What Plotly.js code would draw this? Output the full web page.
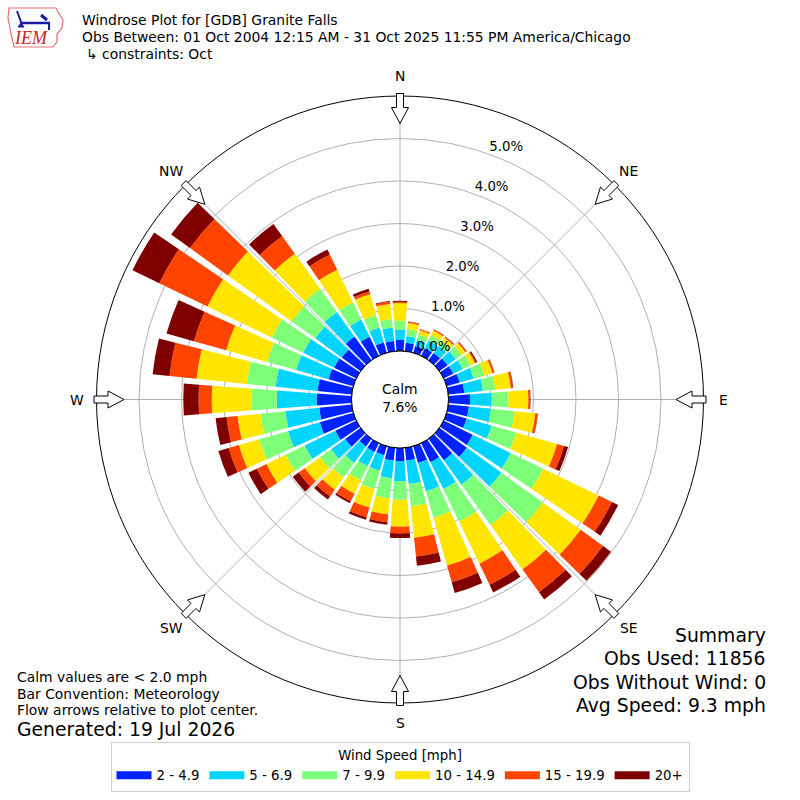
<!DOCTYPE html>
<html>
<head>
<meta charset="utf-8">
<script src="https://cdn.plot.ly/plotly-3.0.1.min.js"></script>
<style>
html,body{margin:0;padding:0;background:#fff;}
#chart{width:800px;height:800px;}
</style>
</head>
<body>
<div id="chart"></div>
<script>
// ---------------- data ----------------
const directions = [0,10,20,30,40,50,60,70,80,90,100,110,120,130,140,150,160,170,
                    180,190,200,210,220,230,240,250,260,270,280,290,300,310,320,330,340,350];
const speedBins = ['2 - 4.9','5 - 6.9','7 - 9.9','10 - 14.9','15 - 19.9','20+'];
const binColors = ['#0022ff','#00d4ff','#7dff7a','#ffe500','#ff4400','#800000'];

// percent of observations per direction and speed bin
const speed2to5   = [0.26,0.20,0.17,0.20,0.21,0.24,0.25,0.32,0.38,0.51,0.49,0.49,0.76,0.80,0.62,0.50,0.41,0.30,
                     0.32,0.30,0.22,0.23,0.22,0.45,0.55,0.82,0.77,0.82,0.81,0.61,0.58,0.55,0.69,0.50,0.25,0.24];
const speed5to7   = [0.24,0.16,0.15,0.20,0.21,0.24,0.25,0.34,0.44,0.51,0.52,0.61,0.99,1.00,0.71,0.70,0.69,0.56,
                     0.46,0.42,0.38,0.37,0.48,0.41,0.80,0.78,0.80,0.94,0.99,0.79,0.81,0.77,0.71,0.45,0.37,0.32];
const speed7to10  = [0.21,0.16,0.12,0.14,0.14,0.17,0.20,0.26,0.29,0.39,0.56,0.60,0.85,1.20,1.17,0.85,0.65,0.52,
                     0.44,0.48,0.45,0.37,0.42,0.32,0.50,0.70,0.59,0.59,0.68,0.71,0.82,0.68,0.67,0.45,0.30,0.20];
const speed10to15 = [0.42,0.15,0.11,0.12,0.09,0.11,0.12,0.20,0.37,0.47,0.49,1.00,1.45,1.10,1.29,1.10,1.17,0.75,
                     0.63,0.38,0.45,0.35,0.36,0.44,0.50,0.50,0.54,0.94,1.19,1.00,1.68,1.85,1.02,0.85,0.51,0.36];
const speed15to20 = [0.03,0.03,0.03,0.03,0.03,0.03,0.03,0.04,0.05,0.03,0.06,0.17,0.35,0.65,0.66,0.55,0.41,0.44,
                     0.16,0.18,0.24,0.20,0.19,0.18,0.25,0.25,0.26,0.31,0.64,0.79,1.26,1.10,0.51,0.40,0.07,0.05];
const speed20plus = [0.02,0.005,0.005,0.005,0.005,0.01,0.03,0.01,0.01,0.02,0.005,0.10,0.16,0.23,0.21,0.20,0.26,0.22,
                     0.11,0.06,0.06,0.05,0.09,0.17,0.22,0.25,0.26,0.36,0.40,0.67,0.70,0.55,0.35,0.13,0.07,0.02];

const radialTicks = [0,1,2,3,4,5];
const radialTickText = ['0.0%','1.0%','2.0%','3.0%','4.0%','5.0%'];
const compassLabels = ['N','NE','E','SE','S','SW','W','NW'];
const compassAngles = [0,45,90,135,180,225,270,315];

const titleLines = ['Windrose Plot for [GDB] Granite Falls',
                    'Obs Between: 01 Oct 2004 12:15 AM - 31 Oct 2025 11:55 PM America/Chicago',
                    '↳ constraints: Oct'];
const calmText = 'Calm<br>7.6%';
const noteLines = ['Calm values are &lt; 2.0 mph','Bar Convention: Meteorology','Flow arrows relative to plot center.'];
const generatedText = 'Generated: 19 Jul 2026';
const summaryLines = ['Summary','Obs Used: 11856','Obs Without Wind: 0','Avg Speed: 9.3 mph'];

// ---------------- geometry / style ----------------
const W = 800, H = 800;
const CX = 400, CY = 399.5, R = 303.5, HOLE = 48.5;
const px = x => x / W;
const py = y => 1 - y / H;
const FONT = 'DejaVu Sans';

const series = [speed2to5, speed5to7, speed7to10, speed10to15, speed15to20, speed20plus];

const traces = series.map((vals, i) => ({
  type: 'barpolar',
  r: vals,
  theta: directions,
  width: 8.4,
  name: speedBins[i],
  marker: {color: binColors[i], line: {width: 0}},
  showlegend: false,
  hoverinfo: 'skip'
}));

// black inner (calm) circle
const ringTheta = [];
for (let a = 0; a <= 360; a += 3) ringTheta.push(a);
traces.push({
  type: 'scatterpolar', mode: 'lines',
  r: ringTheta.map(() => 0), theta: ringTheta,
  line: {color: '#000', width: 1},
  cliponaxis: false, showlegend: false, hoverinfo: 'skip'
});

// radial tick labels
traces.push({
  type: 'scatterpolar', mode: 'text',
  r: radialTicks, theta: radialTicks.map(() => 20),
  text: radialTickText, textposition: 'top right',
  textfont: {family: FONT, size: 13.3, color: '#000'},
  cliponaxis: false, showlegend: false, hoverinfo: 'skip'
});

// legend entries
speedBins.forEach((name, i) => {
  traces.push({
    type: 'scatterpolar', mode: 'lines',
    r: [null], theta: [null],
    name: name,
    line: {color: binColors[i], width: 8},
    showlegend: true, hoverinfo: 'skip'
  });
});

// ---------------- annotations ----------------
const annotations = [];
titleLines.forEach((t, i) => {
  annotations.push({text: t, xref: 'paper', yref: 'paper',
    x: px(i === 2 ? 84 : 80), y: py(20 + 17 * i), xanchor: 'left', yanchor: 'middle',
    showarrow: false, font: {family: FONT, size: 13.9, color: '#000'}});
});
compassLabels.forEach((t, i) => {
  const a = compassAngles[i] * Math.PI / 180;
  annotations.push({text: t, xref: 'paper', yref: 'paper',
    x: px(CX + 323.5 * Math.sin(a)), y: py(CY - 323.5 * Math.cos(a)),
    xanchor: 'center', yanchor: 'middle', showarrow: false,
    font: {family: FONT, size: 13.9, color: '#000'}});
});
annotations.push({text: calmText, xref: 'paper', yref: 'paper', x: px(400), y: py(398.5),
  xanchor: 'center', yanchor: 'middle', showarrow: false, align: 'center',
  font: {family: FONT, size: 13.9, color: '#000'}});
noteLines.forEach((t, i) => {
  annotations.push({text: t, xref: 'paper', yref: 'paper', x: px(15), y: py(677 + 16.5 * i),
    xanchor: 'left', yanchor: 'middle', showarrow: false,
    font: {family: FONT, size: 13.9, color: '#000'}});
});
annotations.push({text: generatedText, xref: 'paper', yref: 'paper', x: px(15), y: py(729),
  xanchor: 'left', yanchor: 'middle', showarrow: false,
  font: {family: FONT, size: 18.8, color: '#000'}});
summaryLines.forEach((t, i) => {
  annotations.push({text: t, xref: 'paper', yref: 'paper', x: px(768), y: py(635 + 23.5 * i),
    xanchor: 'right', yanchor: 'middle', showarrow: false,
    font: {family: FONT, size: 18.8, color: '#000'}});
});
// logo text
annotations.push({text: 'IEM', xref: 'paper', yref: 'paper', x: px(31), y: py(38.5),
  xanchor: 'center', yanchor: 'middle', showarrow: false,
  font: {family: 'Liberation Serif', size: 18, color: '#cc2222', style: 'italic'}});

// ---------------- shapes ----------------
function arrowPath(deg) {
  const t = deg * Math.PI / 180;
  const ux = Math.sin(t), uy = -Math.cos(t), qx = Math.cos(t), qy = Math.sin(t);
  const pts = [[306,-3.5],[292,-3.5],[292,-8.5],[276,0],[292,8.5],[292,3.5],[306,3.5]];
  return 'M' + pts.map(([r, w]) => px(CX + r * ux + w * qx).toFixed(5) + ',' +
                                 py(CY + r * uy + w * qy).toFixed(5)).join(' L') + ' Z';
}
function pxPath(pts, close) {
  return 'M' + pts.map(([x, y]) => px(x).toFixed(5) + ',' + py(y).toFixed(5)).join(' L') + (close ? ' Z' : '');
}
const shapes = compassAngles.map(a => ({
  type: 'path', xref: 'paper', yref: 'paper', path: arrowPath(a),
  fillcolor: '#ffffff', line: {color: '#000', width: 1}, layer: 'above'
}));
// logo outline (Iowa) and barb
shapes.push({type: 'path', xref: 'paper', yref: 'paper', layer: 'above',
  path: pxPath([[9,8],[56,8],[58,12],[63,20],[62,28],[57,34],[57,42],[53,47],[14,47],[12,38],[10,28],[8,18]], true),
  fillcolor: 'rgba(0,0,0,0)', line: {color: '#e07070', width: 1.2}});
shapes.push({type: 'path', xref: 'paper', yref: 'paper', layer: 'above',
  path: pxPath([[20,23],[50,23]], false), line: {color: '#1a1aa8', width: 2.5}});
shapes.push({type: 'path', xref: 'paper', yref: 'paper', layer: 'above',
  path: pxPath([[17,11],[21,22]], false), line: {color: '#1a1aa8', width: 2}});
shapes.push({type: 'path', xref: 'paper', yref: 'paper', layer: 'above',
  path: pxPath([[41,15],[47,20]], false), line: {color: '#1a1aa8', width: 3}});
shapes.push({type: 'path', xref: 'paper', yref: 'paper', layer: 'above',
  path: pxPath([[18,27],[24,27],[21,23]], true), fillcolor: '#1a1aa8', line: {color: '#1a1aa8', width: 1}});
shapes.push({type: 'path', xref: 'paper', yref: 'paper', layer: 'above',
  path: pxPath([[49,23],[49,30]], false), line: {color: '#1a1aa8', width: 2}});

// ---------------- layout ----------------
const layout = {
  width: W, height: H, autosize: false,
  margin: {l: 0, r: 0, t: 0, b: 0, pad: 0},
  paper_bgcolor: '#ffffff',
  font: {family: FONT, color: '#000'},
  polar: {
    domain: {x: [(CX - R) / W, (CX + R) / W], y: [1 - (CY + R) / H, 1 - (CY - R) / H]},
    hole: HOLE / R,
    bgcolor: '#ffffff',
    barmode: 'stack',
    radialaxis: {
      range: [0, 6], tickvals: [1,2,3,4,5], showticklabels: false, ticks: '',
      showline: false, gridcolor: '#b0b0b0', gridwidth: 1, layer: 'above traces', angle: 70
    },
    angularaxis: {
      direction: 'clockwise', rotation: 90, tickvals: compassAngles,
      showticklabels: false, ticks: '', gridcolor: '#b0b0b0', gridwidth: 1,
      showline: true, linecolor: '#000', linewidth: 1, layer: 'above traces'
    }
  },
  showlegend: true,
  legend: {
    orientation: 'h', x: 0.5, xanchor: 'center', y: py(741.7), yanchor: 'top',
    bgcolor: '#ffffff', bordercolor: '#cccccc', borderwidth: 1,
    font: {family: FONT, size: 13.3, color: '#000'},
    title: {text: 'Wind Speed [mph]', side: 'top center', font: {family: FONT, size: 13.3, color: '#000'}},
    itemwidth: 35, traceorder: 'normal', itemclick: false, itemdoubleclick: false
  },
  annotations: annotations,
  shapes: shapes
};

Plotly.newPlot('chart', traces, layout, {displayModeBar: false, staticPlot: true});
</script>
</body>
</html>
